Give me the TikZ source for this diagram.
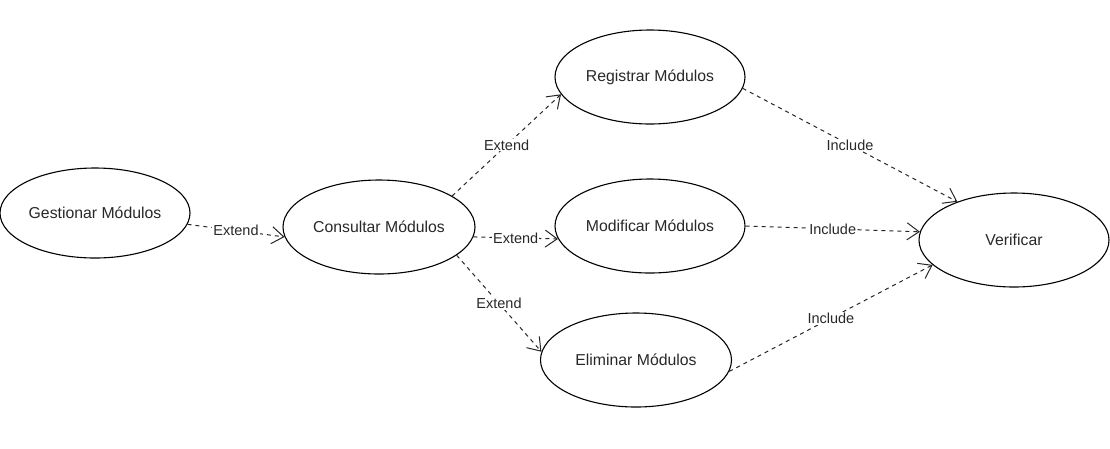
\documentclass[tikz,border=0pt]{standalone}
\usepackage{fontspec}
\setmainfont{Liberation Sans}
\usetikzlibrary{shapes.geometric,arrows.meta}
\definecolor{txt}{RGB}{40,40,40}
\tikzset{
  uc/.style={ellipse,draw=black,line width=1.1pt,inner sep=0pt,text=txt,font=\fontsize{15.8}{18}\selectfont},
  rel/.style={draw=black!85,line width=1pt,dash pattern=on 4pt off 4pt,-{Straight Barb[length=12pt,width=17pt]}},
  lbl/.style={fill=white,inner sep=1pt,text=txt,font=\fontsize{14.5}{17}\selectfont}
}
\begin{document}
\begin{tikzpicture}[x=1pt,y=1pt]
\useasboundingbox (0,0) rectangle (1110,-448);
\node[uc,minimum width=190pt,minimum height=90pt] (g) at (95,-213) {Gestionar Módulos};
\node[uc,minimum width=192pt,minimum height=94pt] (c) at (379,-227) {Consultar Módulos};
\node[uc,minimum width=190pt,minimum height=94pt] (r) at (650,-77) {Registrar Módulos};
\node[uc,minimum width=190pt,minimum height=94pt] (m) at (650,-226) {Modificar Módulos};
\node[uc,minimum width=191pt,minimum height=94pt] (e) at (636,-360) {Eliminar Módulos};
\node[uc,minimum width=190pt,minimum height=94pt] (v) at (1014,-240) {Verificar};

\draw[rel] (g.-7) -- node[lbl] {Extend} (c.186.5);
\draw[rel] (c.23) -- node[lbl] {Extend} (r.191);
\draw[rel] (c.-6.5) -- node[lbl] {Extend} (m.188.6);
\draw[rel] (c.-20) -- node[lbl] {Extend} (e.175);
\draw[rel] (r.-7.6) -- node[lbl] {Include} (v.146.5);
\draw[rel] (m.0.6) -- node[lbl] {Include} (v.175.4);
\draw[rel] (e.-7.3) -- node[lbl] {Include} (v.197);
\end{tikzpicture}
\end{document}
